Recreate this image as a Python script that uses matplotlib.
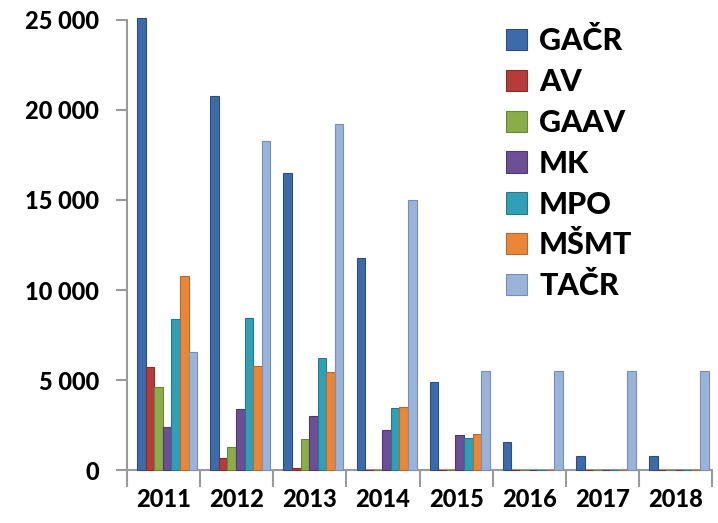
import matplotlib
matplotlib.use("Agg")
import matplotlib.pyplot as plt
import numpy as np
from matplotlib.ticker import FuncFormatter, FixedLocator

years = ["2011", "2012", "2013", "2014", "2015", "2016", "2017", "2018"]
series = ["GAČR", "AV", "GAAV", "MK", "MPO", "MŠMT", "TAČR"]
gacr = [25100, 20800, 16500, 11800, 4900, 1550, 800, 800]
av = [5700, 650, 100, 0, 0, 0, 0, 0]
gaav = [4600, 1300, 1700, 0, 0, 0, 0, 0]
mk = [2400, 3400, 3000, 2250, 1950, 0, 0, 0]
mpo = [8400, 8450, 6250, 3450, 1800, 0, 0, 0]
msmt = [10800, 5800, 5450, 3500, 2000, 0, 0, 0]
tacr = [6550, 18300, 19200, 15000, 5500, 5500, 5500, 5500]
values = [gacr, av, gaav, mk, mpo, msmt, tacr]
colors = ["#3d6aa9", "#b43c3a", "#8aad4a", "#6c4f95", "#31a0b6", "#e8873a", "#9bb2d9"]
edges = ["#2c4f80", "#882b2a", "#67853a", "#4f3970", "#247a8b", "#b5692c", "#7890b8"]

fig = plt.figure(figsize=(7.18, 5.23), dpi=100)
ax = fig.add_axes([127/718, 1-470/523, (712-127)/718, (470-20)/523])

x = np.arange(len(years))
n = len(series)
w = 0.117
for i, (name, vals) in enumerate(zip(series, values)):
    pos = x - 0.5 + 0.14 + w/2 + i*w
    ax.bar(pos, vals, width=w, color=colors[i], edgecolor=edges[i], linewidth=0.8,
           label=name, clip_on=False, zorder=3)

ax.set_xlim(-0.5, 7.5)
ax.set_ylim(0, 25000)
ax.set_yticks([0, 5000, 10000, 15000, 20000, 25000])
ax.yaxis.set_major_formatter(FuncFormatter(lambda v, p: f"{int(v):,}".replace(",", " ")))
ax.xaxis.set_major_locator(FixedLocator(np.arange(-0.5, 8.0, 1.0)))
ax.xaxis.set_major_formatter(FuncFormatter(lambda v, p: ""))
ax.xaxis.set_minor_locator(FixedLocator(x))
ax.set_xticklabels(years, minor=True)

for s in ["top", "right"]:
    ax.spines[s].set_visible(False)
for s in ["left", "bottom"]:
    ax.spines[s].set_color("#9a9a9a")
    ax.spines[s].set_linewidth(1.5)
ax.tick_params(axis="y", length=8, width=1.5, color="#9a9a9a", pad=12,
               labelsize=17)
ax.tick_params(axis="x", which="major", length=12, width=1.5, color="#9a9a9a")
ax.tick_params(axis="x", which="minor", length=0, pad=13, labelsize=17)
for lab in ax.get_yticklabels() + ax.get_xticklabels(minor=True):
    lab.set_fontweight("black")
    lab.set_family(["Lato", "DejaVu Sans"])

leg = ax.legend(loc="upper left", bbox_to_anchor=(0.60, 1.045), frameon=False,
                prop={"family": ["Lato", "DejaVu Sans"], "weight": "black", "size": 22},
                handlelength=0.7, handleheight=0.7, handletextpad=0.4, labelspacing=0.42)

fig.savefig("out.png", dpi=100)
